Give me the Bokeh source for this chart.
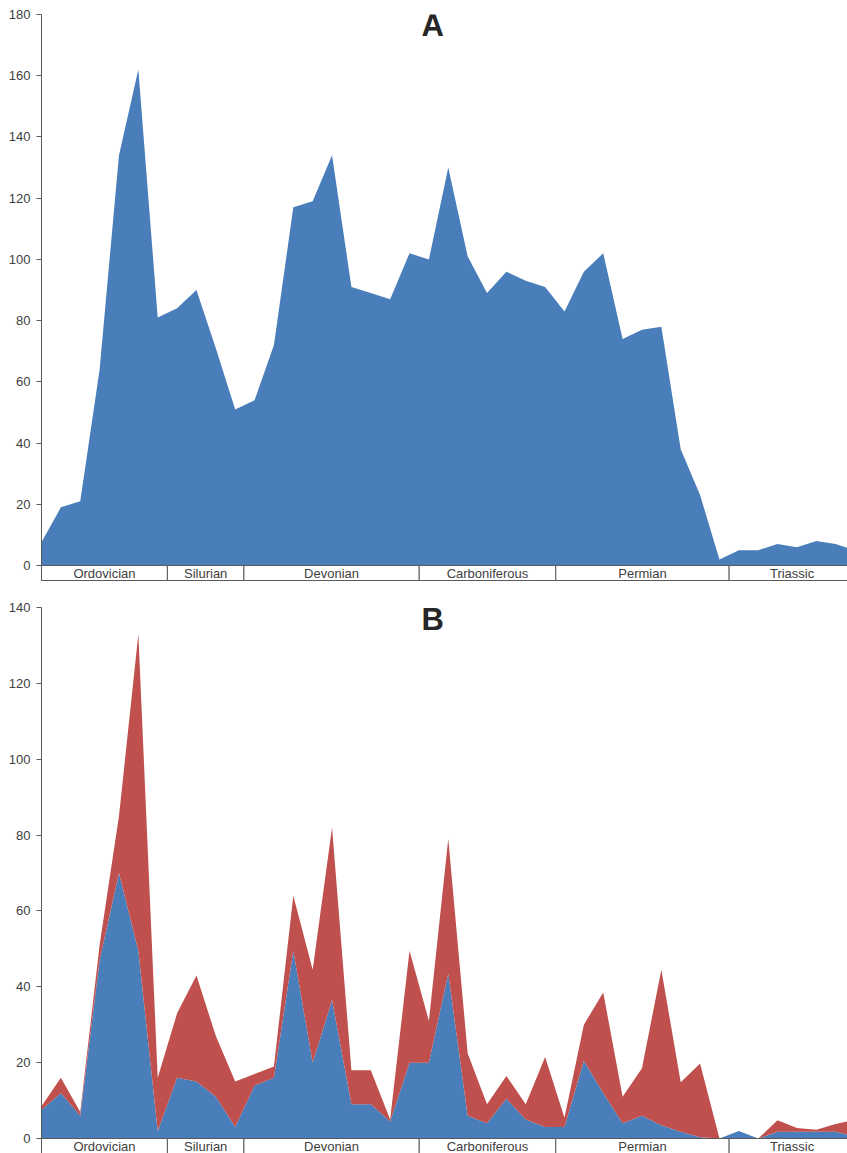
from bokeh.plotting import figure
from bokeh.models import Range1d, FixedTicker, Label, ColumnDataSource
from bokeh.layouts import column
from bokeh.embed import file_html
from bokeh.resources import INLINE
from bokeh.core.properties import value

# ---------------- data ----------------
step = list(range(43))

# Panel A: total diversity
a_total = [7.6, 19, 21, 64, 134, 162, 81, 84, 90, 71, 51, 54, 72, 117, 119, 134,
           91, 89, 87, 102, 100, 130, 101, 89, 96, 93, 91, 83, 96, 102, 74, 77,
           78, 38, 23, 2, 5, 5, 7, 6, 8, 7, 5]

# Panel B: stacked series (blue bottom, red on top)
b_blue = [7.5, 12, 6, 47, 70, 49.5, 2, 16, 15, 11, 3, 14, 16, 49.5, 20, 36.5,
          9, 9, 4.5, 20, 20, 43.5, 6, 4, 10.5, 5, 3, 3, 20.5, 12, 4, 6,
          3.5, 1.8, 0.3, 0, 2, 0, 1.8, 1.8, 1.8, 1.8, 0.5]
b_red = [1, 4, 1, 4, 15, 83.5, 14, 17, 28, 16, 12, 3, 3, 14.5, 24.5, 45.5,
         9, 9, 0.5, 29.5, 11, 35.5, 16.5, 5, 6, 4, 18.5, 2.5, 9.5, 26.5, 7, 12.5,
         41, 13, 19.5, 0, 0, 0, 3, 1, 0.5, 2, 4.5]

periods = ["Ordovician", "Silurian", "Devonian", "Carboniferous", "Permian", "Triassic"]
period_edges = [0, 6.5, 10.45, 19.5, 26.55, 35.5, 42]

yticks_a = [0, 20, 40, 60, 80, 100, 120, 140, 160, 180]
yticks_b = [0, 20, 40, 60, 80, 100, 120, 140]

# ---------------- style ----------------
BLUE = "#4A7EBB"
RED = "#C0504D"
AXIS = "#595959"
TXT = "#404040"
FONT = "Liberation Sans"

PX_PER_STEP = 19.37
FRAME_W = 806
X_END = FRAME_W / PX_PER_STEP


def base_fig(frame_h, ymax, ppu, top_border, ticks):
    y_start = ymax - frame_h / ppu
    p = figure(frame_width=FRAME_W, frame_height=frame_h,
               x_range=Range1d(0, X_END), y_range=Range1d(y_start, ymax),
               x_axis_type=None, output_backend="svg", toolbar_location=None,
               min_border_left=41, min_border_right=0, min_border_top=top_border,
               min_border_bottom=0)
    p.outline_line_color = None
    p.background_fill_color = "white"
    p.border_fill_color = "white"
    p.grid.visible = False
    ax = p.yaxis[0]
    ax.ticker = FixedTicker(ticks=ticks)
    ax.axis_line_color = AXIS
    ax.axis_line_width = 1
    ax.major_tick_line_color = AXIS
    ax.major_tick_out = 5
    ax.major_tick_in = 0
    ax.minor_tick_line_color = None
    ax.major_label_text_font = FONT
    ax.major_label_text_font_size = "13px"
    ax.major_label_text_color = TXT
    ax.major_label_standoff = 6
    return p


def add_strip(p, ppu, strip_bottom_px):
    bottom = -strip_bottom_px / ppu
    lefts = period_edges[:-1]
    rights = period_edges[1:]
    p.quad(left=lefts, right=rights, top=0, bottom=bottom,
           fill_color="white", line_color=AXIS, line_width=1)
    centers = [(l + r) / 2 for l, r in zip(lefts, rights)]
    p.text(x=centers, y=[-8 / ppu] * len(centers), text=periods,
           text_font=value(FONT), text_font_size=value("13px"),
           text_color=TXT, text_align="center", text_baseline="middle")


def add_title(p, txt, y):
    p.add_layout(Label(x=20.19, y=y, text=txt, text_align="center",
                       text_baseline="middle", text_font=FONT,
                       text_font_size="31px", text_font_style="bold",
                       text_color="#262626"))


# ---------------- panel A ----------------
ppu_a = 551 / 180
pa = base_fig(567, 180, ppu_a, 14, yticks_a)
pa.varea(x=step, y1=0, y2=a_total, fill_color=BLUE)
add_strip(pa, ppu_a, 15)
add_title(pa, "A", 180 - 11 / ppu_a)

# ---------------- panel B ----------------
ppu_b = 531 / 140
pb = base_fig(546, 140, ppu_b, 26, yticks_b)
src = ColumnDataSource(dict(x=step, blue=b_blue, red=b_red))
pb.varea_stack(["blue", "red"], x="x", color=[BLUE, RED], source=src)
add_strip(pb, ppu_b, 17)
add_title(pb, "B", 140 - 12.2 / ppu_b)

layout = column(pa, pb, spacing=0)
open("out.html", "w").write(file_html(layout, INLINE))
